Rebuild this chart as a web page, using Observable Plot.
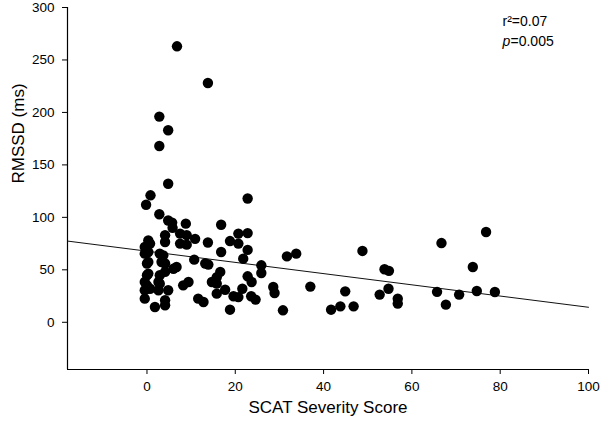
<!DOCTYPE html>
<html>
<head>
<meta charset="utf-8">
<script src="https://cdn.jsdelivr.net/npm/d3@7"></script>
<script src="https://cdn.jsdelivr.net/npm/@observablehq/plot@0.6"></script>
<style>
  html, body { margin: 0; padding: 0; background: #fff; }
  #chart { width: 600px; height: 431px; }
</style>
</head>
<body>
<div id="chart"></div>
<script>
// SCAT severity score (x) and RMSSD in ms (y)
const scatScore = [
  6.8, 13.8, 2.8, 4.8, 2.8, 4.8, 0.8, -0.2, 22.8, 2.8,
  4.8, 5.7, 8.8, 16.8, 5.8, 7.5, 9.0, 4.1, 0.3, 0.7,
  4.1, 7.5, 9.0, 10.9, 13.8, 20.7, 22.8, 18.8, 20.7, 16.8,
  22.8, -0.5, 0.3, -0.5, 2.9, 3.7, 0.3, 0.0, 3.3, 4.1,
  6.0, 6.7, 4.1, 0.0, 0.3, 2.9, -0.5, 0.0, 2.6, 2.9,
  9.4, 8.2, -0.5, 0.7, 2.6, 4.8, -0.5, 1.8, 4.1, 4.1,
  10.7, 13.2, 13.9, 16.6, 15.8, 14.7, 15.8, 17.7, 15.8, 11.6,
  12.8, 19.6, 20.7, 18.8, 21.8, 25.9, 25.9, 31.7, 33.8, 22.8,
  23.7, 21.6, 23.6, 24.6, 28.6, 28.9, 30.8, 48.8, 37.0, 44.9,
  41.7, 43.8, 46.8, 53.8, 54.8, 52.7, 54.7, 56.8, 56.8, 66.7,
  65.7, 67.7, 70.7, 73.8, 74.7, 76.8, 78.8
];
const rmssd = [
  263, 228, 196, 183, 168, 132, 121, 112, 118, 103,
  97, 95, 94, 93, 90, 84.5, 83, 83, 78, 75,
  76.5, 75, 74, 79.5, 76, 84.5, 85, 77.4, 75, 67,
  69, 71.7, 67, 65.4, 65.4, 63.8, 57.5, 56, 57.5, 56,
  51, 52.7, 48, 44.8, 46.4, 44.8, 38.4, 35.2, 38.4, 36.8,
  38.4, 35.2, 30.5, 32, 30.5, 30.5, 22.5, 14.6, 16.2, 21,
  59.7, 56, 55, 48, 43, 38.4, 36.8, 31, 27.3, 22.5,
  19.3, 24.8, 24, 12, 60.6, 54.3, 47, 62.8, 65.4, 43.8,
  38.4, 32, 24.8, 21.6, 33.6, 27.9, 11.4, 68, 34, 29.5,
  12, 15.2, 15.2, 50.5, 49, 26.4, 32, 22.5, 17.8, 75.5,
  29, 16.8, 26.4, 52.7, 29.8, 86, 28.9
];

// Regression line, read at both ends of the x axis
const fitX = [-18, 100];
const fitY = [77.4, 14.3];

// Axis ticks and domains
const xTicks = [0, 20, 40, 60, 80, 100];
const yTicks = [0, 50, 100, 150, 200, 250, 300];
const xDomain = [-18, 100];
const yDomain = [-45, 300];

// Texts
const xLabel = "SCAT Severity Score";
const yLabel = "RMSSD (ms)";
const r2Text = "r\u00b2=0.07";
const pSymbol = "p";
const pValue = "=0.005";

const points = scatScore.map((x, i) => ({x, y: rmssd[i]}));
const fit = fitX.map((x, i) => ({x, y: fitY[i]}));

const font = "'Liberation Sans', Arial, Helvetica, sans-serif";

const chart = Plot.plot({
  width: 600,
  height: 431,
  marginLeft: 67,
  marginRight: 12,
  marginTop: 7,
  marginBottom: 62,
  style: {fontFamily: font, fontSize: "13.5px", color: "#000", background: "#fff", overflow: "visible"},
  x: {domain: xDomain},
  y: {domain: yDomain},
  marks: [
    Plot.axisX({ticks: xTicks, tickSize: 5, tickPadding: 7, label: null, fontSize: 13.5, stroke: "#000"}),
    Plot.axisY({ticks: yTicks, tickSize: 5, tickPadding: 8, label: null, fontSize: 13.5, stroke: "#000"}),
    Plot.ruleX([xDomain[0]], {stroke: "#000", strokeWidth: 1.2}),
    Plot.ruleY([yDomain[0]], {stroke: "#000", strokeWidth: 1.2}),
    Plot.line(fit, {x: "x", y: "y", stroke: "#111", strokeWidth: 1}),
    Plot.dot(points, {x: "x", y: "y", r: 5.2, fill: "#000", stroke: "none"}),
    Plot.text([xLabel], {frameAnchor: "bottom", dy: 43, fontSize: 17, fill: "#000"}),
    Plot.text([yLabel], {frameAnchor: "left", dx: -49, dy: -5, rotate: -90, fontSize: 17, fill: "#000"}),
    Plot.text([r2Text], {frameAnchor: "top-right", textAnchor: "start", dx: -86, dy: 9, fontSize: 14, fill: "#000"}),
    Plot.text([pSymbol], {frameAnchor: "top-right", textAnchor: "start", dx: -86, dy: 29, fontSize: 14, fontStyle: "italic", fill: "#000"}),
    Plot.text([pValue], {frameAnchor: "top-right", textAnchor: "start", dx: -78, dy: 29, fontSize: 14, fill: "#000"})
  ]
});

document.getElementById("chart").appendChild(chart);
</script>
</body>
</html>
